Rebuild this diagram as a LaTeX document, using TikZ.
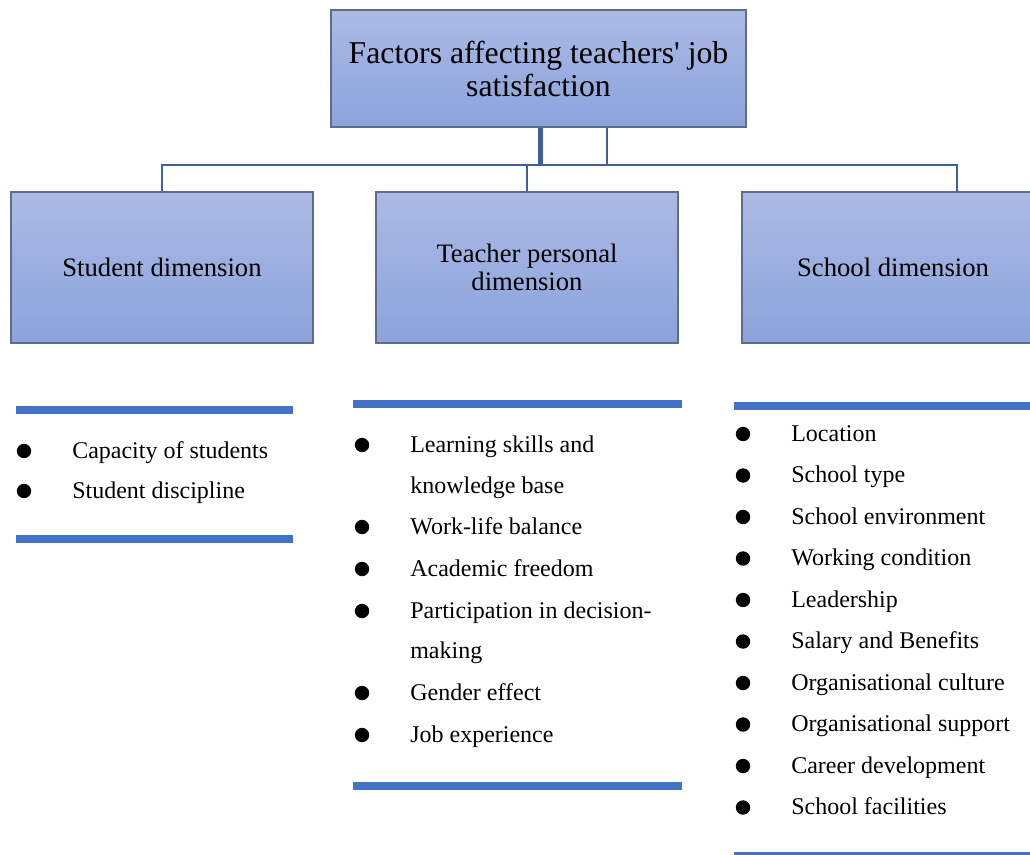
\documentclass[tikz,border=0pt]{standalone}
\usepackage{fontspec}
\setmainfont{Liberation Serif}
\usetikzlibrary{positioning}
\definecolor{boxtop}{RGB}{172,186,228}
\definecolor{boxbot}{RGB}{139,163,220}
\definecolor{boxedge}{RGB}{95,110,135}
\definecolor{linkblue}{RGB}{62,95,160}
\definecolor{barblue}{RGB}{68,114,196}
\tikzset{
  dimbox/.style={draw=boxedge, line width=0.9pt, top color=boxtop, bottom color=boxbot,
    inner sep=0pt, minimum width=226.5pt, minimum height=113.25pt, align=center,
    font=\fontsize{20}{21}\selectfont},
  link/.style={draw=linkblue, line width=2pt},
  listitem/.style={anchor=base west, inner sep=0pt, font=\fontsize{18}{20}\selectfont},
  bulletdot/.style={circle, fill=black, inner sep=0pt, minimum size=10.8pt},
  rulebar/.style={fill=barblue},
}
\begin{document}
\begin{tikzpicture}[x=0.75pt, y=-0.75pt]
\useasboundingbox (0,0) rectangle (1030,855);

% Draw the title box
\node[dimbox, minimum width=311.25pt, minimum height=87.75pt,
  font=\fontsize{23.8}{24.75}\selectfont] (top) at (538.5,68.5)
  {Factors affecting teachers\textquotesingle{} job\\satisfaction};

% Draw the three dimension boxes
\node[dimbox] (student) at (162,267.5) {Student dimension};
\node[dimbox] (teacher) at (527,267.5) {Teacher personal\\dimension};
\node[dimbox] (school) at (893,267.5) {School dimension};

% Draw the connectors
\coordinate (busA) at (540,165);
\coordinate (busB) at (607,165);
\coordinate (busE) at (957,165);
\draw[link, line width=3.75pt] (top.south -| busA) -- (busA);
\draw[link] (top.south -| busB) -- (busB);
\draw[link] (student.north) |- (busE) -- (school.north -| busE);
\draw[link] (teacher.north) -- (teacher.north |- busE);

% Draw the rules round the lists
\fill[rulebar] (16,406) rectangle (293,414);
\fill[rulebar] (16,535) rectangle (293,543);
\fill[rulebar] (353,400) rectangle (682,408);
\fill[rulebar] (353,782) rectangle (682,790);
\fill[rulebar] (734,402) rectangle (1030,410);
\fill[rulebar] (734,852) rectangle (1030,854.5);

% Student list
\foreach \yy/\txt [count=\i] in {458/Capacity of students, 498/Student discipline} {
  \node[listitem] (stu\i) at (72,\yy) {\txt};
  \node[bulletdot] (stuDot\i) at (24,\yy-7) {};
}

% Teacher list
\foreach \yy/\txt/\b [count=\i] in {452/Learning skills and/1, 493/knowledge base/0,
    534/Work-life balance/1, 576/Academic freedom/1, 618/Participation in decision-/1,
    658/making/0, 700/Gender effect/1, 742/Job experience/1} {
  \node[listitem] (tch\i) at (410,\yy) {\txt};
  \ifnum\b=1 \node[bulletdot] (tchDot\i) at (362,\yy-7) {}; \fi
}

% School list
\foreach \txt [count=\i] in {Location, School type, School environment, Working condition,
    Leadership, Salary and Benefits, Organisational culture, Organisational support,
    Career development, School facilities} {
  \node[listitem] (sch\i) at (791,{441+41.5*(\i-1)}) {\txt};
  \node[bulletdot] (schDot\i) at (743,{434+41.5*(\i-1)}) {};
}
\end{tikzpicture}
\end{document}
